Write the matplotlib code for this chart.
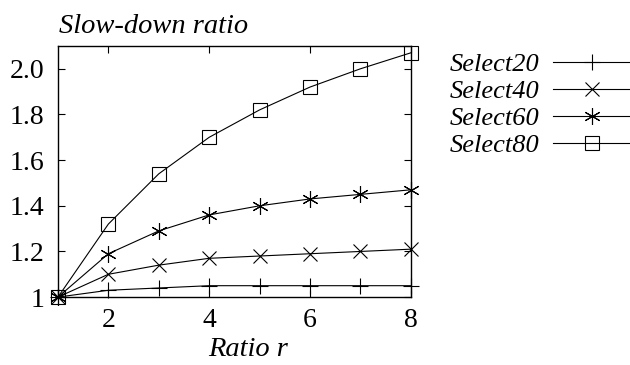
import matplotlib
matplotlib.use('Agg')
import matplotlib.pyplot as plt
from matplotlib.ticker import FixedLocator, FixedFormatter

ratio = [1, 2, 3, 4, 5, 6, 7, 8]
select20 = [1.0, 1.03, 1.04, 1.05, 1.05, 1.05, 1.05, 1.05]
select40 = [1.0, 1.10, 1.14, 1.17, 1.18, 1.19, 1.20, 1.21]
select60 = [1.0, 1.19, 1.29, 1.36, 1.40, 1.43, 1.45, 1.47]
select80 = [1.0, 1.32, 1.54, 1.70, 1.82, 1.92, 2.00, 2.07]
labels = ['Select20', 'Select40', 'Select60', 'Select80']

yticks = [1.0, 1.2, 1.4, 1.6, 1.8, 2.0]
ytick_labels = ['1', '1.2', '1.4', '1.6', '1.8', '2.0']
xticks = [2, 4, 6, 8]

plt.rcParams['font.family'] = ['Liberation Serif', 'DejaVu Serif']

fig = plt.figure(figsize=(6.3, 3.65), dpi=100)
ax = fig.add_axes([0.092, 0.186, 0.56, 0.688])

series = [select20, select40, select60, select80]
markers = ['+', 'x', (6, 2, 0), 's']
sizes = [12, 10, 12, 10]
for ys, m, ms, lab in zip(series, markers, sizes, labels):
    ax.plot(ratio, ys, color='black', lw=0.8, marker=m, markersize=ms,
            markerfacecolor='none', markeredgecolor='black',
            markeredgewidth=0.8, label=lab, clip_on=False)

ax.set_xlim(1, 8)
ax.set_ylim(1, 2.1)
ax.xaxis.set_major_locator(FixedLocator(xticks))
ax.yaxis.set_major_locator(FixedLocator(yticks))
ax.yaxis.set_major_formatter(FixedFormatter(ytick_labels))
ax.tick_params(direction='in', length=5, width=0.8, labelsize=20,
               top=True, right=True)
ax.tick_params(axis='x', pad=8)
ax.tick_params(axis='y', pad=10)
for s in ax.spines.values():
    s.set_linewidth(1.0)

ax.set_xlabel('Ratio r', fontsize=20.5, style='italic')
ax.xaxis.set_label_coords(0.54, -0.16)
fig.text(0.093, 0.928, 'Slow-down ratio', fontsize=20.5, style='italic',
         va='center', ha='left')

leg = fig.legend(loc='upper right', bbox_to_anchor=(1.0, 0.855), frameon=False,
                 markerfirst=False, handlelength=2.9, handletextpad=0.55,
                 labelspacing=0.13, prop={'size': 19, 'style': 'italic'},
                 borderaxespad=0, borderpad=0)

fig.savefig('out.png', dpi=100)
